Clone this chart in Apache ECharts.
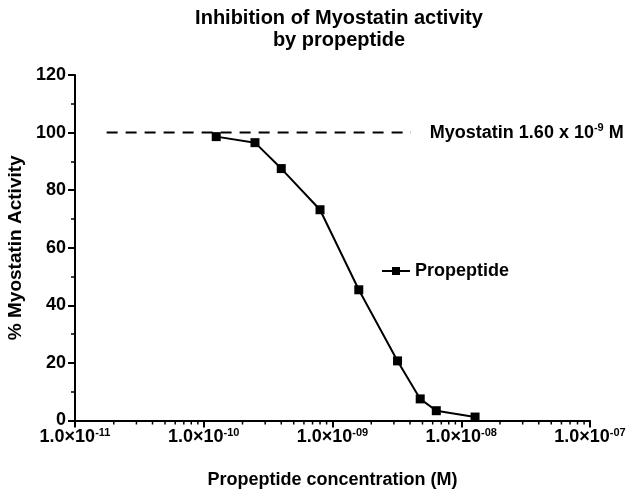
<!DOCTYPE html>
<html>
<head>
<meta charset="utf-8">
<script src="https://cdn.jsdelivr.net/npm/echarts@6/dist/echarts.min.js"></script>
<style>html,body{margin:0;padding:0;background:#fff;}#c{width:635px;height:499px;}</style>
</head>
<body>
<div id="c"></div>
<script>
// Data
var concentrations = [1.25e-10, 2.5e-10, 4.0e-10, 8.0e-10, 1.6e-9, 3.2e-9, 4.8e-9, 6.4e-9, 1.28e-8];
var activity = [98.6, 96.5, 87.5, 73.2, 45.4, 20.7, 7.5, 3.4, 1.2];
var myostatinLineX = [1.76e-11, 4.06e-9];
var myostatinLevel = 100;
var xTickExponents = ['-11', '-10', '-09', '-08', '-07'];
var yTicks = [0, 20, 40, 60, 80, 100, 120];

var FONT = "'Liberation Sans', Arial, sans-serif";
var minorX = [];
for (var e = -11; e < -7; e++) { for (var k = 2; k <= 9; k++) { minorX.push([k * Math.pow(10, e), 0]); } }

var chart = echarts.init(document.getElementById('c'), null, {renderer: 'canvas'});
chart.setOption({
  animation: false,
  backgroundColor: '#fff',
  title: {
    text: 'Inhibition of Myostatin activity\nby propeptide',
    left: 334, top: 2, textAlign: 'center',
    textStyle: {fontFamily: FONT, fontWeight: 'bold', fontSize: 20, lineHeight: 22, color: '#000'}
  },
  legend: {
    data: ['Propeptide'], left: 376, top: 257, itemWidth: 28, itemHeight: 10, itemGap: 4,
    textStyle: {fontFamily: FONT, fontWeight: 'bold', fontSize: 18, color: '#000'}
  },
  grid: {left: 75, right: 45, top: 75, bottom: 78.5, outerBoundsMode: 'none', containLabel: false},
  xAxis: {
    type: 'log', logBase: 10, min: 1e-11, max: 1e-7, splitNumber: 4,
    name: 'Propeptide concentration (M)', nameLocation: 'middle', nameGap: 51,
    nameTextStyle: {fontFamily: FONT, fontWeight: 'bold', fontSize: 18, color: '#000'},
    axisLine: {lineStyle: {color: '#000', width: 2}},
    axisTick: {length: 7, lineStyle: {color: '#000', width: 2}},
    splitLine: {show: false},
    axisLabel: {
      margin: 7, color: '#000',
      formatter: function (v) {
        var i = Math.round(Math.log10(v)) + 11;
        return '{b|1.0×10}{s|' + xTickExponents[i] + '}';
      },
      rich: {
        b: {fontFamily: FONT, fontWeight: 'bold', fontSize: 18, lineHeight: 20, color: '#000'},
        s: {fontFamily: FONT, fontWeight: 'bold', fontSize: 11, lineHeight: 12, verticalAlign: 'top', color: '#000'}
      }
    }
  },
  yAxis: {
    type: 'value', min: 0, max: 120, interval: 20,
    name: '% Myostatin Activity', nameLocation: 'middle', nameGap: 48, nameRotate: 90,
    nameTextStyle: {fontFamily: FONT, fontWeight: 'bold', fontSize: 19, color: '#000'},
    axisLine: {show: true, lineStyle: {color: '#000', width: 2}},
    axisTick: {show: true, length: 7, lineStyle: {color: '#000', width: 2}},
    minorTick: {show: true, splitNumber: 2, length: 4, lineStyle: {color: '#000', width: 1.5}},
    splitLine: {show: false},
    axisLabel: {margin: 9, fontFamily: FONT, fontWeight: 'bold', fontSize: 18, color: '#000'}
  },
  series: [
    {
      name: 'Propeptide', type: 'line',
      data: concentrations.map(function (c, i) { return [c, activity[i]]; }),
      symbol: 'rect', symbolSize: 9, showAllSymbol: true,
      itemStyle: {color: '#000'},
      lineStyle: {color: '#000', width: 2}
    },
    {
      name: 'Myostatin', type: 'line',
      data: myostatinLineX.map(function (x) { return [x, myostatinLevel]; }),
      symbol: 'none',
      lineStyle: {color: '#000', width: 2, type: [11, 8]},
      endLabel: {
        show: true, distance: 19,
        formatter: '{b|Myostatin 1.60 x 10}{s|-9}{b| M}',
        rich: {
          b: {fontFamily: FONT, fontWeight: 'bold', fontSize: 18, lineHeight: 20, color: '#000'},
          s: {fontFamily: FONT, fontWeight: 'bold', fontSize: 11, lineHeight: 12, verticalAlign: 'top', color: '#000'}
        }
      }
    },
    {
      name: 'minorTicks', type: 'custom', data: minorX, clip: false, silent: true, z: 5,
      renderItem: function (params, api) {
        var p = api.coord([api.value(0), api.value(1)]);
        return {type: 'line', shape: {x1: p[0], y1: p[1], x2: p[0], y2: p[1] + 4},
          style: {stroke: '#000', lineWidth: 1.5}};
      }
    }
  ]
});
</script>
</body>
</html>
